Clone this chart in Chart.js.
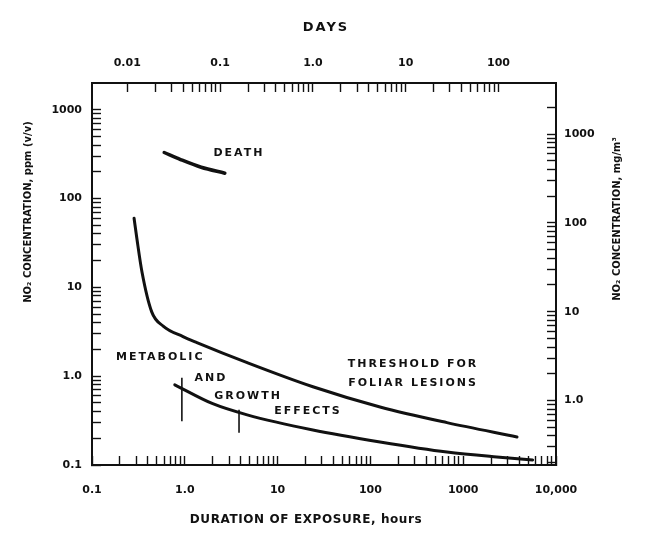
<!DOCTYPE html>
<html>
<head>
<meta charset="utf-8">
<script src="https://cdn.jsdelivr.net/npm/chart.js@4.4.1/dist/chart.umd.min.js"></script>
<style>
  html, body { margin: 0; padding: 0; background: #fff; }
  #wrap { width: 646px; height: 540px; }
</style>
</head>
<body>
<div id="wrap"><canvas id="chart" width="646" height="540"></canvas></div>
<script>
// NO2 exposure: duration (hours) vs concentration (ppm v/v)
const deathHours = [0.6, 0.9, 1.5, 2.7];
const deathPpm = [330, 275, 225, 193];

const lesionHours = [0.284, 0.305, 0.346, 0.44, 0.585, 0.957, 1.35, 4.7, 24, 127, 668, 3800];
const lesionPpm = [60, 35, 14.8, 5.3, 3.66, 2.79, 2.39, 1.42, 0.76, 0.45, 0.30, 0.207];

const growthHours = [0.78, 2.0, 4.7, 24, 127, 668, 2300, 5600];
const growthPpm = [0.80, 0.49, 0.367, 0.248, 0.182, 0.14, 0.123, 0.114];

// vertical range bars on the growth curve
const rangeHours = [0.93, 3.84];
const rangeLow = [0.31, 0.23];
const rangeHigh = [0.96, 0.42];

// axis labels
const hourLabels = { 0.1: '0.1', 1: '1.0', 10: '10', 100: '100', 1000: '1000', 10000: '10,000' };
const dayLabels = { 0.01: '0.01', 0.1: '0.1', 1: '1.0', 10: '10', 100: '100' };
const ppmLabels = { 0.1: '0.1', 1: '1.0', 10: '10', 100: '100', 1000: '1000' };
const mgLabels = { 1: '1.0', 10: '10', 100: '100', 1000: '1000' };

const curveLabels = [
  { text: 'DEATH', hours: 3.74, ppm: 327 },
  { text: 'METABOLIC', hours: 0.53, ppm: 1.62 },
  { text: 'AND', hours: 1.87, ppm: 0.96 },
  { text: 'GROWTH', hours: 4.68, ppm: 0.59 },
  { text: 'EFFECTS', hours: 20.7, ppm: 0.40 },
  { text: 'THRESHOLD FOR', hours: 281, ppm: 1.35 },
  { text: 'FOLIAR LESIONS', hours: 281, ppm: 0.845 }
];

const ink = '#111';
const PPM_TO_MG = 1.88;
const HOURS_PER_DAY = 24;

// 1..9 x 10^k marks between lo and hi
function logMarks(lo, hi) {
  const out = [];
  for (let e = Math.floor(Math.log10(lo)); e <= Math.ceil(Math.log10(hi)); e++) {
    for (let m = 1; m <= 9; m++) {
      const v = +(m * Math.pow(10, e)).toPrecision(3);
      if (v >= lo * 0.999 && v <= hi * 1.001) out.push(v);
    }
  }
  return out;
}

const pts = (xs, ys) => xs.map((v, i) => ({ x: v, y: ys[i] }));

const tickFont = { family: '"DejaVu Sans"', size: 11, weight: 'bold' };

function logAxis(position, min, max, marks, labels, padding, size) {
  return {
    type: 'logarithmic',
    position: position,
    min: min,
    max: max,
    border: { display: true, color: ink, width: 2 },
    grid: { drawOnChartArea: false, drawTicks: true, tickLength: -9, tickColor: ink, tickWidth: 1.4 },
    ticks: {
      autoSkip: false,
      maxRotation: 0,
      minRotation: 0,
      padding: padding,
      color: ink,
      font: tickFont,
      callback: v => labels[+(+v).toPrecision(3)] || ''
    },
    afterBuildTicks: s => { s.ticks = marks.map(v => ({ value: v })); },
    afterFit: s => {
      if (position === 'top' || position === 'bottom') s.height = size; else s.width = size;
    }
  };
}

const xAxis = logAxis('bottom', 0.1, 10000, logMarks(0.1, 10000), hourLabels, 27.4, 75);
const dayAxis = logAxis('top', 0.1 / HOURS_PER_DAY, 10000 / HOURS_PER_DAY, logMarks(0.01, 100), dayLabels, 22.4, 83);
const yAxis = logAxis('left', 0.1, 2000, logMarks(0.1, 1000), ppmLabels, 19, 92);
const mgAxis = logAxis('right', 0.1 * PPM_TO_MG, 2000 * PPM_TO_MG, logMarks(0.2, 2000), mgLabels, 17, 90);

// curve captions and axis titles
const captions = {
  id: 'captions',
  afterDraw(chart) {
    const { ctx, scales, chartArea } = chart;
    const x = scales.x, y = scales.y;
    ctx.save();
    ctx.fillStyle = ink;
    ctx.textAlign = 'center';
    ctx.textBaseline = 'middle';
    ctx.font = 'bold 11px "DejaVu Sans"';
    ctx.letterSpacing = '2px';
    curveLabels.forEach(l => {
      ctx.fillText(l.text, x.getPixelForValue(l.hours) + 1, y.getPixelForValue(l.ppm));
    });

    ctx.font = 'bold 13px "DejaVu Sans"';
    ctx.letterSpacing = '2px';
    ctx.fillText('DAYS', (chartArea.left + chartArea.right) / 2 + 2, 28);

    ctx.font = 'bold 12px "DejaVu Sans"';
    ctx.letterSpacing = '0.6px';
    ctx.fillText('DURATION OF EXPOSURE, hours', 306, 520);

    ctx.font = 'bold 10px "DejaVu Sans"';
    ctx.letterSpacing = '0px';
    ctx.save();
    ctx.translate(28, 212);
    ctx.rotate(-Math.PI / 2);
    ctx.fillText('NO\u2082 CONCENTRATION, ppm (v/v)', 0, 0);
    ctx.restore();

    ctx.save();
    ctx.translate(617, 219);
    ctx.rotate(-Math.PI / 2);
    ctx.fillText('NO\u2082 CONCENTRATION, mg/m\u00B3', 0, 0);
    ctx.restore();
    ctx.restore();
  }
};

const curve = (data, width) => ({
  data: data,
  xAxisID: 'x',
  yAxisID: 'y',
  borderColor: ink,
  borderWidth: width,
  pointRadius: 0,
  fill: false,
  cubicInterpolationMode: 'monotone',
  borderCapStyle: 'round'
});

const datasets = [
  curve(pts(deathHours, deathPpm), 3.5),
  curve(pts(lesionHours, lesionPpm), 3),
  curve(pts(growthHours, growthPpm), 3)
];
rangeHours.forEach((h, i) => {
  const bar = curve([{ x: h, y: rangeLow[i] }, { x: h, y: rangeHigh[i] }], 1.6);
  bar.cubicInterpolationMode = 'default';
  bar.tension = 0;
  bar.borderCapStyle = 'butt';
  datasets.push(bar);
});

new Chart(document.getElementById('chart'), {
  type: 'line',
  data: { datasets: datasets },
  options: {
    responsive: false,
    animation: false,
    layout: { padding: 0 },
    plugins: { legend: { display: false }, tooltip: { enabled: false } },
    scales: { x: xAxis, xDays: dayAxis, y: yAxis, yMg: mgAxis }
  },
  plugins: [captions]
});
</script>
</body>
</html>
